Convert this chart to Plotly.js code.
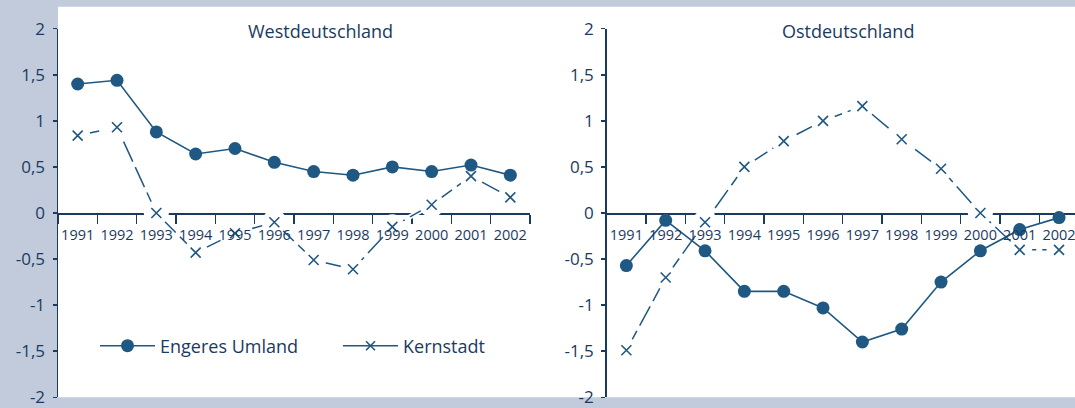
<!DOCTYPE html>
<html>
<head>
<meta charset="utf-8">
<script src="https://cdn.plot.ly/plotly-3.0.1.min.js"></script>
<style>
  html, body { margin: 0; padding: 0; background: #c1cbdc; }
  #chart { width: 1075px; height: 408px; }
</style>
</head>
<body>
<div id="chart"></div>
<script>
// ---- data ----
const years = ['1991','1992','1993','1994','1995','1996','1997','1998','1999','2000','2001','2002'];
const westUmland = [1.40, 1.44, 0.88, 0.64, 0.70, 0.55, 0.45, 0.41, 0.50, 0.45, 0.52, 0.41];
const westKern   = [0.84, 0.93, 0.00, -0.43, -0.22, -0.10, -0.51, -0.61, -0.15, 0.09, 0.40, 0.17];
const eastUmland = [-0.57, -0.08, -0.41, -0.85, -0.85, -1.03, -1.40, -1.26, -0.75, -0.41, -0.18, -0.05];
const eastKern   = [-1.49, -0.70, -0.10, 0.50, 0.78, 1.00, 1.16, 0.80, 0.48, 0.00, -0.40, -0.40];
const yTickVals  = [-2, -1.5, -1, -0.5, 0, 0.5, 1, 1.5, 2];
const yTickText  = ['-2', '-1,5', '-1', '-0,5', '0', '0,5', '1', '1,5', '2'];
const panelTitles = ['Westdeutschland', 'Ostdeutschland'];
const seriesNames = ['Engeres Umland', 'Kernstadt'];

// ---- styling ----
const W = 1075, H = 408;
const LINE = '#1f5882';
const TEXT = '#1b3a5f';
const FONT = '"Open Sans", "DejaVu Sans", sans-serif';
const xs = years.map(Number);

const yDom = [10.7 / H, (H - 28.7) / H];
const yZero = (yDom[0] + yDom[1]) / 2;
const leftDom = [58 / W, 530 / W];
const rightDom = [606.7 / W, 1];
const catW = (530 - 58) / 12;
const rightRange = [1990.5, 1990.5 + (W - 606.7) / catW];

function kernTraces(y, xa, ya) {
  return [
    { x: xs, y: y, xaxis: xa, yaxis: ya, mode: 'lines', line: { color: '#ffffff', width: 5 },
      showlegend: false, hoverinfo: 'skip' },
    { x: xs, y: y, xaxis: xa, yaxis: ya, mode: 'lines', line: { color: LINE, width: 1.5, dash: '22px,6px' },
      showlegend: false, hoverinfo: 'skip' },
    { x: xs, y: y, xaxis: xa, yaxis: ya, mode: 'markers',
      marker: { symbol: 'circle', size: 25, color: '#ffffff', line: { width: 0 } },
      showlegend: false, hoverinfo: 'skip' },
    { x: xs, y: y, xaxis: xa, yaxis: ya, mode: 'markers', name: seriesNames[1],
      marker: { symbol: 'x-thin-open', size: 10, color: LINE, line: { color: LINE, width: 1.6 } },
      showlegend: false }
  ];
}
function umlandTrace(y, xa, ya) {
  return { x: xs, y: y, xaxis: xa, yaxis: ya, mode: 'lines+markers', name: seriesNames[0],
    line: { color: LINE, width: 1.6 },
    marker: { symbol: 'circle', size: 13, color: LINE, line: { width: 0 } },
    showlegend: false };
}

const traces = [].concat(
  kernTraces(westKern, 'x', 'y'),
  [umlandTrace(westUmland, 'x', 'y')],
  kernTraces(eastKern, 'x2', 'y2'),
  [umlandTrace(eastUmland, 'x2', 'y2')],
  // label-only overlay axes
  [{ x: [xs[0]], y: [null], xaxis: 'x3', yaxis: 'y', mode: 'lines', showlegend: false, hoverinfo: 'skip' },
   { x: [xs[0]], y: [null], xaxis: 'x4', yaxis: 'y2', mode: 'lines', showlegend: false, hoverinfo: 'skip' }],
  // legend entries
  [{ x: [null], y: [null], xaxis: 'x', yaxis: 'y', mode: 'lines+markers', name: seriesNames[0],
     line: { color: LINE, width: 1.6 }, marker: { symbol: 'circle', size: 13, color: LINE } },
   { x: [null], y: [null], xaxis: 'x', yaxis: 'y', mode: 'lines+markers', name: seriesNames[1],
     line: { color: LINE, width: 1.6 },
     marker: { symbol: 'x-thin-open', size: 9, color: LINE, line: { color: LINE, width: 1.6 } } }]
);

function lineAxis(dom, range) {
  return { domain: dom, range: range, anchor: 'free', position: yZero, type: 'linear',
    tick0: 1990.5, dtick: 1, ticks: 'outside', ticklen: 9, tickwidth: 1.5, tickcolor: TEXT,
    showticklabels: false, showline: true, linecolor: TEXT, linewidth: 1.5,
    showgrid: false, zeroline: false, layer: 'below traces', fixedrange: true };
}
function labelAxis(dom, range, over) {
  return { domain: dom, range: range, anchor: 'free', position: yZero, overlaying: over, type: 'linear',
    tick0: 1991, dtick: 1, tickformat: 'd', ticks: 'outside', ticklen: 9, tickcolor: 'rgba(0,0,0,0)',
    showticklabels: true, showline: false, showgrid: false, zeroline: false, ticklabeloverflow: 'allow',
    tickfont: { family: FONT, size: 14.5, color: TEXT }, layer: 'above traces', fixedrange: true };
}
function yAxis(anchor) {
  return { domain: yDom, anchor: anchor, range: [-2, 2], tickvals: yTickVals, ticktext: yTickText,
    ticks: 'outside', ticklen: 4, tickwidth: 1.5, tickcolor: TEXT,
    showline: true, linecolor: TEXT, linewidth: 1.5, showgrid: false, zeroline: false,
    tickfont: { family: FONT, size: 17, color: TEXT }, ticklabelstandoff: 4, ticklabeloverflow: 'allow',
    layer: 'below traces', fixedrange: true };
}

const layout = {
  width: W, height: H,
  margin: { l: 0, r: 0, t: 0, b: 0, pad: 0 },
  paper_bgcolor: '#c1cbdc', plot_bgcolor: 'rgba(0,0,0,0)',
  font: { family: FONT, color: TEXT },
  xaxis: lineAxis(leftDom, [1990.5, 2002.5]),
  xaxis2: lineAxis(rightDom, rightRange),
  xaxis3: labelAxis(leftDom, [1990.5, 2002.5], 'x'),
  xaxis4: labelAxis(rightDom, rightRange, 'x2'),
  yaxis: yAxis('x'),
  yaxis2: yAxis('x2'),
  shapes: [
    { type: 'rect', xref: 'paper', yref: 'paper', x0: 58 / W, x1: 1, y0: yDom[0], y1: (H - 6.7) / H,
      fillcolor: '#ffffff', line: { width: 0 }, layer: 'below' }
  ],
  annotations: [
    { text: panelTitles[0], xref: 'paper', yref: 'paper', x: 320.5 / W, y: (H - 31) / H,
      xanchor: 'center', yanchor: 'middle', showarrow: false, font: { size: 18, color: TEXT } },
    { text: panelTitles[1], xref: 'paper', yref: 'paper', x: 847.5 / W, y: (H - 31) / H,
      xanchor: 'center', yanchor: 'middle', showarrow: false, font: { size: 18, color: TEXT } }
  ],
  showlegend: true,
  legend: { orientation: 'h', x: 95 / W, xanchor: 'left', y: (H - 346) / H, yanchor: 'middle',
    bgcolor: 'rgba(0,0,0,0)', borderwidth: 0, itemwidth: 55, tracegroupgap: 0,
    entrywidth: 173, entrywidthmode: 'pixels',
    font: { family: FONT, size: 18, color: TEXT } }
};

Plotly.newPlot('chart', traces, layout, { staticPlot: true, displayModeBar: false });
</script>
</body>
</html>
